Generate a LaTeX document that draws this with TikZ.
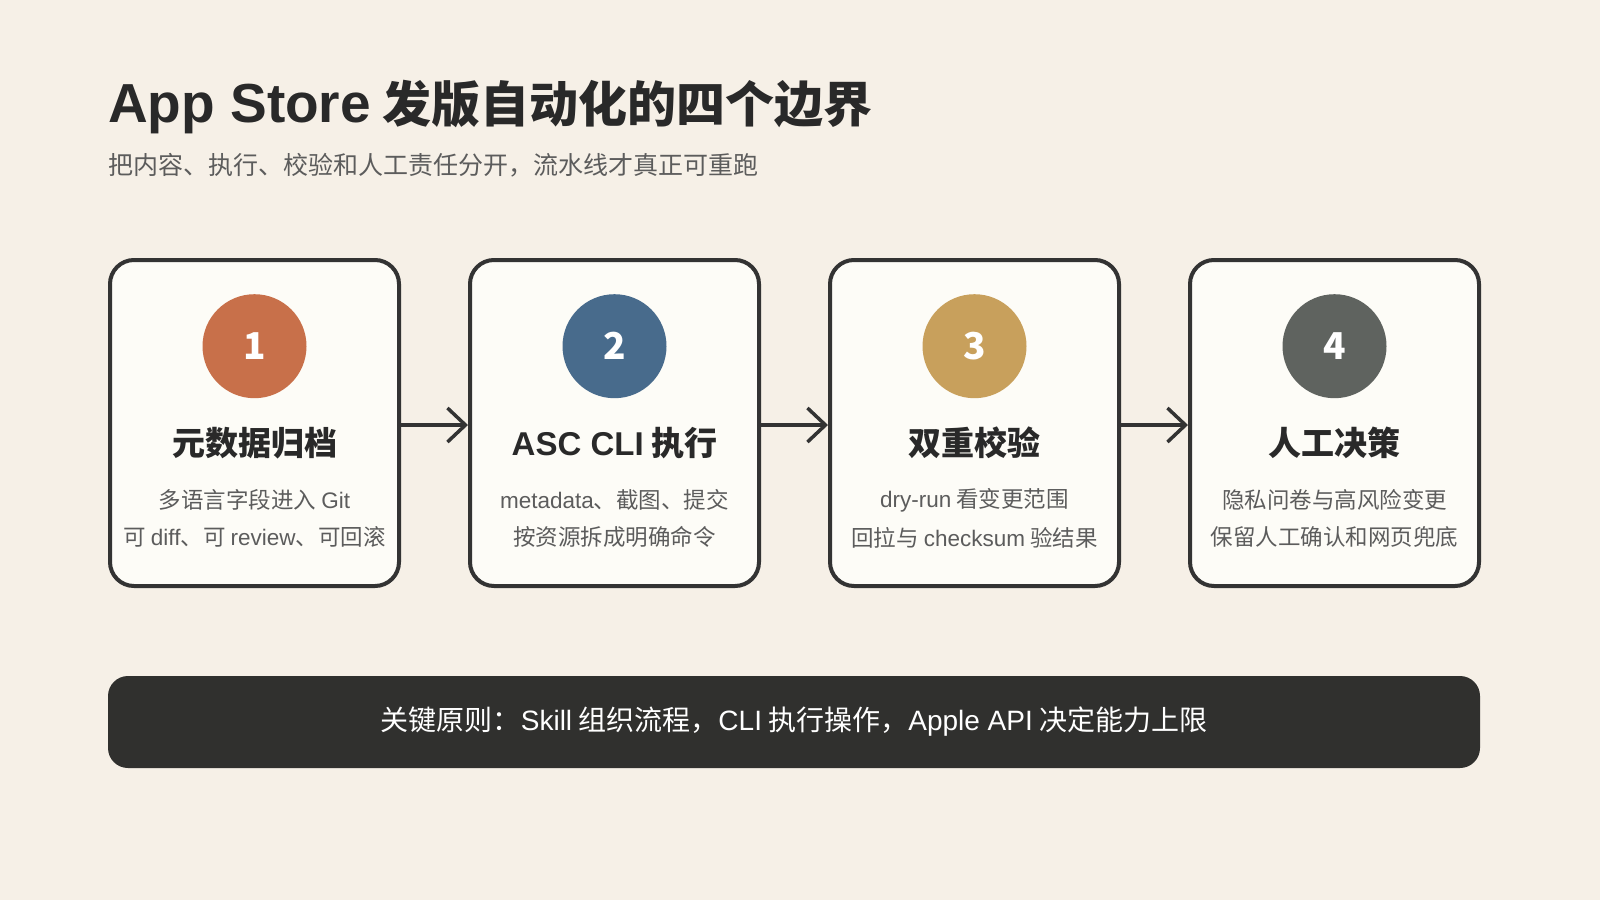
\documentclass[tikz,border=0pt]{standalone}
\usepackage{fontspec}
\setmainfont{Noto Sans CJK SC}
\newfontfamily\lat{Liberation Sans}
\usepackage{tikz}
\usetikzlibrary{arrows.meta,positioning}

\definecolor{paper}{HTML}{F6F0E7}
\definecolor{cardfill}{HTML}{FDFCF7}
\definecolor{ink}{HTML}{333333}
\definecolor{soft}{HTML}{5C5C5C}
\definecolor{s1col}{HTML}{C8704A}
\definecolor{s2col}{HTML}{486B8C}
\definecolor{s3col}{HTML}{C8A05C}
\definecolor{s4col}{HTML}{5F635F}
\definecolor{barcol}{HTML}{30302E}

\newcommand{\fs}[1]{\fontsize{#1}{#1}\selectfont}

\begin{document}
\begin{tikzpicture}[x=1pt, y=-1pt, node distance = 67pt,
  card/.style = {draw=ink, line width=4pt, fill=cardfill, rounded corners=24pt,
                 minimum width=289pt, minimum height=326pt, inner sep=0pt},
  badge/.style = {circle, minimum size=104pt, inner sep=0pt, text=white,
                  font=\fs{37}\bfseries},
  head/.style = {text=ink!80!black, font=\fs{33}\bfseries, inner sep=0pt},
  body/.style = {text=soft, font=\fs{22.5}, align=center, inner sep=0pt},
  flow/.style = {draw=ink, line width=3.5pt,
                 -{Straight Barb[length=18pt, width=34pt, line width=3.5pt]}},
  bar/.style = {fill=barcol, rounded corners=20pt, minimum width=1372pt,
                minimum height=92pt, text=white, font=\fs{28}}]
\useasboundingbox (0,0) rectangle (1600,900);
\fill[paper] (0,0) rectangle (1600,900);

% title
\node[anchor=base west, inner sep=0pt, text=ink!80!black, font=\fs{49}\bfseries]
  (title) at (108,122) {{\lat\fs{55}\bfseries App Store} 发版自动化的四个边界};
\node[anchor=base west, inner sep=0pt, text=soft, font=\fs{25}]
  (subtitle) at (108,174) {把内容、执行、校验和人工责任分开，流水线才真正可重跑};

% cards
\node[card] (s_1) at (254.5,423) {};
\node[card] (s_2) [right = of s_1] {};
\node[card] (s_3) [right = of s_2] {};
\node[card] (s_4) [right = of s_3] {};

\node[badge, fill=s1col] (b_1) [below = 36pt of s_1.north] {1};
\node[badge, fill=s2col] (b_2) [below = 36pt of s_2.north] {2};
\node[badge, fill=s3col] (b_3) [below = 36pt of s_3.north] {3};
\node[badge, fill=s4col] (b_4) [below = 36pt of s_4.north] {4};

\node[head] (h_1) at ([yshift=-20pt]s_1.center) {元数据归档};
\node[head] (h_2) at ([yshift=-20pt]s_2.center) {{\lat ASC CLI} 执行};
\node[head] (h_3) at ([yshift=-20pt]s_3.center) {双重校验};
\node[head] (h_4) at ([yshift=-20pt]s_4.center) {人工决策};

\begin{scope}
\clip ([xshift=2pt]s_1.south west) rectangle ([xshift=-2pt]s_1.north east);
\node[body] (t_1) at ([yshift=-95.5pt]s_1.center) {多语言字段进入 {\lat Git}\\[14pt]可 {\lat diff}、可 {\lat review}、可回滚};
\end{scope}
\node[body] (t_2) at ([yshift=-95.5pt]s_2.center) {{\lat metadata}、截图、提交\\[14pt]按资源拆成明确命令};
\node[body] (t_3) at ([yshift=-95.5pt]s_3.center) {{\lat dry-run} 看变更范围\\[14pt]回拉与 {\lat checksum} 验结果};
\node[body] (t_4) at ([yshift=-95.5pt]s_4.center) {隐私问卷与高风险变更\\[14pt]保留人工确认和网页兜底};

\path ([yshift=-2pt]s_1.east) edge[flow] ([yshift=-2pt]s_2.west)
    ([yshift=-2pt]s_2.east) edge[flow] ([yshift=-2pt]s_3.west)
    ([yshift=-2pt]s_3.east) edge[flow] ([yshift=-2pt]s_4.west);

% key principle
\node[bar] (rule) at (794,722) {关键原则：{\lat Skill} 组织流程，{\lat CLI} 执行操作，{\lat Apple API} 决定能力上限};
\end{tikzpicture}
\end{document}
